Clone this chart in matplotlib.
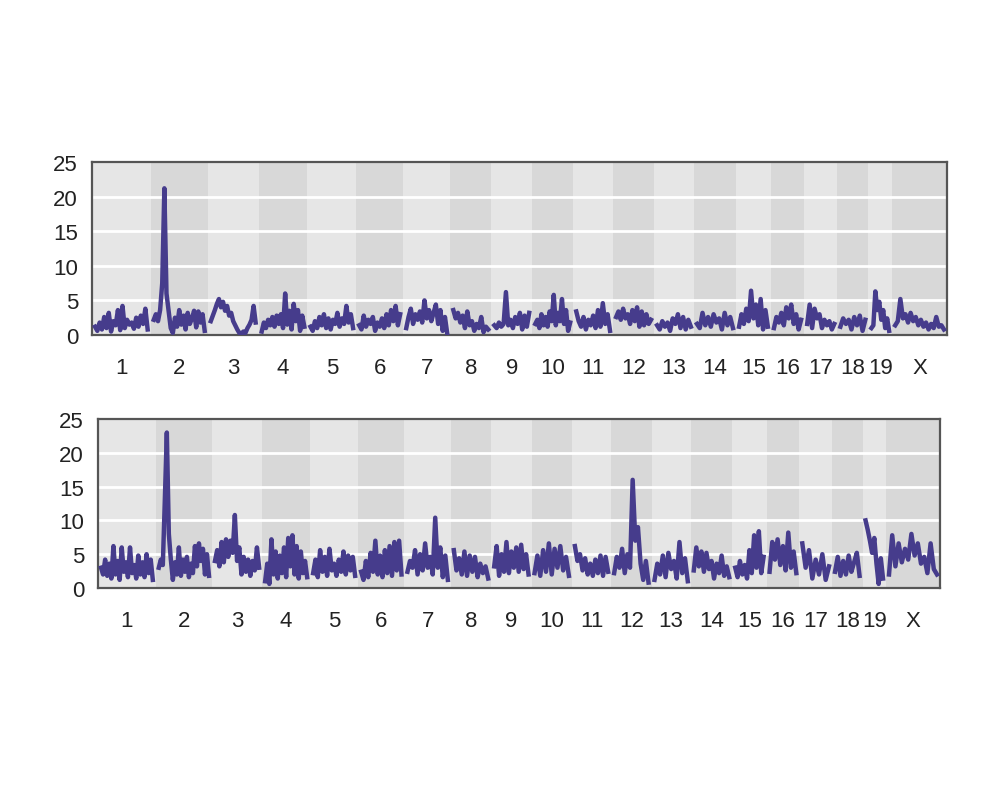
import numpy as np
import matplotlib
matplotlib.use('Agg')
import matplotlib.pyplot as plt

plt.rcParams['font.family'] = ['Liberation Sans', 'DejaVu Sans']

CHROMS = ['1', '2', '3', '4', '5', '6', '7', '8', '9', '10',
          '11', '12', '13', '14', '15', '16', '17', '18', '19', 'X']
CHR_LEN = [95, 92, 81, 77, 77, 74, 74, 63, 63, 63,
           61, 63, 61, 65, 52, 49, 49, 45, 32, 88]
GAP = 11

# LOD profiles, one list per chromosome (top panel)
lod_top = [
    [1.2, 0.6, 1.8, 0.8, 2.6, 1.0, 3.2, 0.5, 2.0, 1.4, 3.6, 0.7, 4.2, 1.0, 2.2, 1.5, 1.8, 0.9, 2.5, 1.2, 2.8, 1.6, 3.8, 0.8],
    [2.2, 3.0, 2.0, 3.6, 7.5, 21.2, 6.0, 3.5, 1.0, 0.3, 2.5, 1.2, 3.6, 1.5, 2.8, 0.8, 3.2, 1.6, 2.4, 3.5, 1.1, 3.4, 1.8, 3.0, 0.6],
    [2.0, 2.8, 3.6, 4.5, 5.2, 4.0, 4.8, 3.5, 4.2, 2.8, 3.2, 2.0, 1.4, 0.8, 0.3, 0.2, 0.5, 0.3, 1.0, 1.5, 2.2, 4.2, 1.8],
    [0.5, 1.8, 1.0, 2.2, 1.4, 2.6, 1.2, 2.8, 1.6, 3.0, 1.0, 6.0, 1.5, 3.5, 0.8, 4.5, 2.0, 3.6, 0.6, 2.8, 1.2],
    [1.2, 0.6, 2.0, 1.0, 2.6, 1.4, 3.0, 1.0, 2.4, 0.8, 2.2, 1.6, 3.2, 1.2, 2.4, 1.6, 4.2, 1.8, 3.0, 1.0],
    [1.4, 0.8, 2.8, 1.2, 2.2, 1.6, 2.6, 0.6, 1.8, 1.2, 2.4, 1.0, 3.0, 1.4, 3.6, 2.0, 4.2, 1.4, 3.0],
    [1.0, 2.6, 3.8, 1.6, 3.0, 2.2, 3.4, 1.8, 5.0, 2.4, 3.6, 2.0, 3.2, 4.4, 1.6, 3.6, 0.6, 2.6, 0.2],
    [3.6, 2.4, 3.2, 1.8, 2.8, 1.0, 3.4, 1.4, 2.0, 0.6, 1.6, 1.0, 2.6, 0.4, 1.2, 0.8],
    [1.4, 1.0, 1.8, 1.2, 1.6, 6.2, 1.4, 2.2, 1.0, 2.6, 1.6, 3.2, 0.8, 2.8, 1.2, 3.2],
    [1.6, 2.2, 1.0, 3.0, 1.4, 2.6, 1.2, 3.4, 2.0, 5.8, 1.4, 3.2, 2.0, 5.2, 1.6, 3.6, 0.6, 1.8],
    [3.4, 2.0, 1.2, 2.6, 0.8, 2.2, 1.4, 2.8, 1.0, 3.6, 1.2, 4.6, 1.6, 3.0, 0.6],
    [2.6, 3.4, 2.2, 3.8, 2.4, 3.0, 1.6, 3.6, 2.0, 4.0, 1.2, 3.4, 1.4, 3.0, 1.6, 2.2],
    [1.4, 0.8, 2.0, 1.2, 1.8, 0.6, 2.4, 1.6, 3.0, 1.0, 2.6, 0.8, 2.2, 1.2],
    [1.6, 1.0, 3.2, 1.4, 2.6, 1.2, 3.0, 1.8, 2.4, 0.8, 3.2, 1.4, 2.6, 1.0],
    [1.2, 3.0, 1.6, 3.8, 2.0, 6.4, 2.4, 4.4, 1.4, 5.2, 0.8, 3.6, 1.2],
    [1.0, 2.6, 1.8, 3.2, 1.4, 4.0, 2.4, 4.4, 1.6, 3.0, 0.8, 2.2],
    [1.6, 4.4, 1.0, 3.8, 2.4, 3.0, 1.0, 2.2, 1.4, 2.0, 0.8, 1.6],
    [1.2, 2.4, 1.6, 2.2, 0.8, 2.6, 1.4, 2.8, 0.6, 2.2],
    [1.0, 1.4, 6.3, 3.6, 4.8, 2.2, 3.6, 1.0, 2.4, 0.6],
    [1.4, 2.0, 5.2, 2.4, 3.0, 1.8, 3.2, 2.0, 2.6, 1.4, 2.2, 1.2, 1.8, 0.8, 1.6, 1.0, 2.6, 1.2, 1.4, 0.8],
]

# bottom panel
lod_bottom = [
    [3.0, 2.0, 4.2, 1.8, 3.6, 1.4, 6.2, 2.0, 4.0, 1.2, 6.0, 2.4, 3.8, 1.6, 6.0, 2.2, 3.4, 1.4, 4.8, 2.0, 3.8, 1.6, 5.0, 2.2, 4.2, 1.2],
    [3.0, 4.2, 3.4, 13.0, 23.0, 8.0, 4.2, 1.2, 3.8, 2.0, 6.0, 1.8, 4.2, 2.4, 4.6, 1.6, 3.6, 2.2, 6.2, 3.2, 6.6, 4.0, 5.8, 2.0, 5.0, 1.8],
    [4.0, 5.6, 3.2, 6.8, 3.8, 7.2, 4.6, 7.0, 5.2, 10.8, 4.0, 6.0, 2.0, 4.6, 2.4, 4.2, 1.8, 4.0, 2.6, 6.0, 3.0],
    [1.0, 3.6, 0.6, 7.2, 2.0, 5.4, 1.4, 4.8, 2.2, 6.0, 1.6, 7.4, 3.2, 7.8, 2.0, 6.2, 1.4, 5.4, 2.2, 4.0, 1.6],
    [2.2, 4.2, 1.6, 5.6, 2.4, 4.6, 1.8, 5.8, 2.6, 3.6, 1.8, 4.2, 2.4, 5.4, 2.0, 4.8, 2.6, 4.6, 1.8],
    [2.4, 1.2, 4.0, 1.6, 5.2, 2.4, 7.0, 2.0, 4.8, 1.6, 5.6, 2.2, 6.2, 1.8, 6.8, 2.6, 7.0, 2.0],
    [2.4, 4.0, 3.0, 5.6, 2.0, 5.0, 2.6, 6.6, 3.0, 4.6, 2.0, 10.4, 3.0, 6.0, 1.6, 4.8, 1.2],
    [5.6, 2.6, 4.4, 2.0, 5.4, 1.8, 4.8, 2.4, 4.6, 1.6, 3.6, 2.2, 3.2, 1.4],
    [3.2, 6.2, 1.8, 5.0, 2.4, 6.8, 2.2, 5.4, 3.0, 6.0, 2.4, 6.4, 2.8, 5.0, 2.0],
    [2.2, 4.8, 1.8, 5.6, 2.4, 6.6, 2.0, 5.8, 3.0, 6.2, 2.6, 4.6, 1.8],
    [6.2, 4.0, 5.0, 2.6, 4.4, 2.0, 3.6, 1.8, 4.2, 2.2, 4.8, 1.8, 4.6, 2.4],
    [2.2, 4.6, 3.0, 5.8, 2.2, 5.0, 3.0, 16.0, 7.0, 9.0, 3.6, 1.2, 4.0, 0.8],
    [1.2, 3.6, 2.0, 4.8, 1.6, 5.2, 2.8, 4.0, 1.4, 6.8, 2.2, 4.4, 1.0],
    [2.6, 6.0, 3.2, 5.4, 2.4, 5.2, 2.8, 4.0, 1.4, 3.6, 2.2, 4.8, 1.8, 3.2, 1.6],
    [3.0, 1.6, 4.0, 2.0, 3.4, 1.4, 5.6, 2.2, 7.8, 3.0, 8.4, 2.2, 4.6],
    [2.4, 6.8, 4.2, 7.2, 3.4, 6.2, 2.6, 8.2, 3.0, 5.4, 2.2],
    [6.6, 3.0, 5.6, 1.4, 4.2, 2.0, 5.0, 1.2, 3.2],
    [2.4, 4.6, 1.8, 4.0, 2.0, 4.8, 2.4, 3.8, 5.2, 1.8],
    [10.0, 8.6, 7.0, 5.2, 7.4, 3.6, 0.6, 4.4, 1.4],
    [2.0, 7.8, 3.2, 6.6, 3.8, 5.8, 4.2, 8.0, 4.8, 6.6, 3.6, 4.6, 2.2, 6.6, 2.8, 2.0],
]

LINE_COLOR = '#463c8c'
BAND_LIGHT = '#e6e6e6'
BAND_DARK = '#d8d8d8'


def draw_scan(ax, lods):
    starts = np.concatenate([[0], np.cumsum(np.array(CHR_LEN) + GAP)[:-1]])
    centers = []
    for i, (s, L, vals) in enumerate(zip(starts, CHR_LEN, lods)):
        ax.axvspan(s, s + L + GAP, color=BAND_DARK if i % 2 else BAND_LIGHT,
                   lw=0, zorder=0)
        x0 = s + GAP / 2
        pos = np.linspace(x0, x0 + L, len(vals))
        ax.plot(pos, vals, color=LINE_COLOR, lw=3.2, zorder=3,
                solid_joinstyle='round')
        centers.append(x0 + L / 2)
    for y in [5, 10, 15, 20]:
        ax.axhline(y, color='white', lw=2, zorder=1)
    ax.set_xlim(0, starts[-1] + CHR_LEN[-1] + GAP)
    ax.set_ylim(0, 25)
    ax.set_yticks([0, 5, 10, 15, 20, 25])
    ax.set_xticks(centers)
    ax.set_xticklabels(CHROMS)
    ax.tick_params(axis='both', length=0, labelsize=16, colors='#222222')
    ax.tick_params(axis='x', pad=16)
    ax.tick_params(axis='y', pad=10)
    for sp in ax.spines.values():
        sp.set_color('#555555')
        sp.set_linewidth(1.6)


fig = plt.figure(figsize=(10.04, 8.12), dpi=100)
W, H = 1004, 812
ax1 = fig.add_axes([92 / W, 1 - 336 / H, (947 - 92) / W, (336 - 163) / H])
ax2 = fig.add_axes([98 / W, 1 - 589 / H, (940 - 98) / W, (589 - 420) / H])
draw_scan(ax1, lod_top)
draw_scan(ax2, lod_bottom)

fig.savefig('out.png', dpi=100, facecolor='white')
